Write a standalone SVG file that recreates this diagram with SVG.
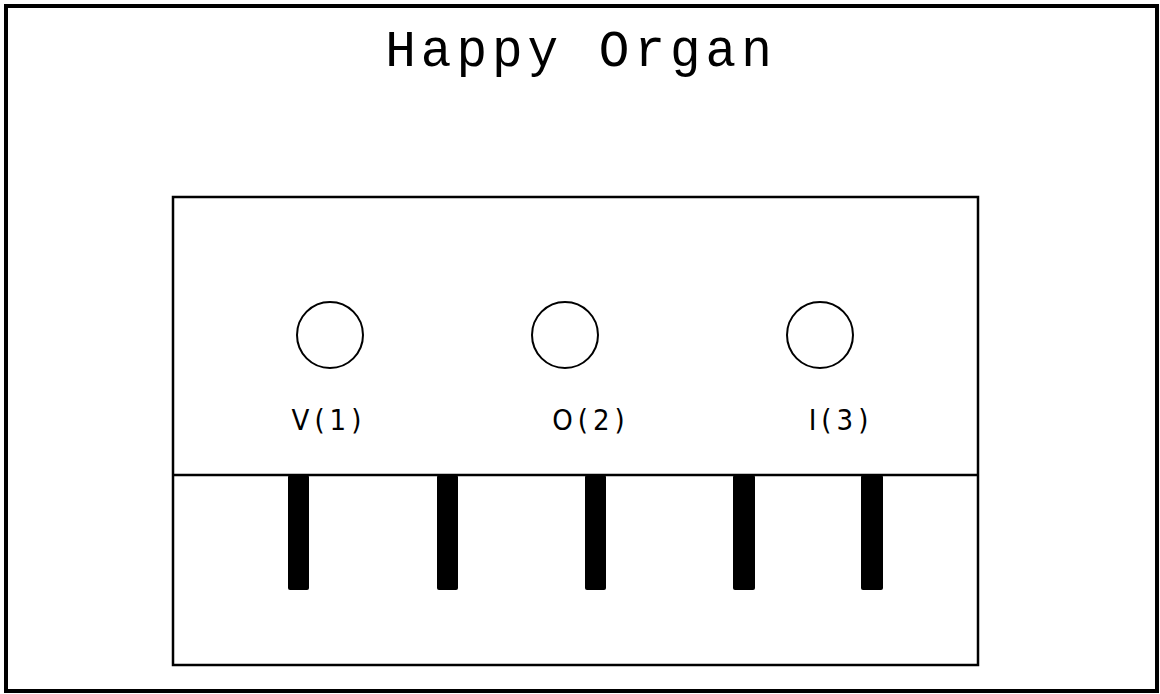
<svg xmlns="http://www.w3.org/2000/svg" width="1160" height="694" viewBox="0 0 1160 694">
<style>
.frame{fill:none;stroke:#000;stroke-width:4}
.box{fill:none;stroke:#000;stroke-width:2.5}
.knob{fill:#fff;stroke:#000;stroke-width:2}
.key{fill:#000}
.title{font-family:"Liberation Mono","Courier New",monospace;font-size:51px;letter-spacing:5px;fill:#000}
.lbl{font-family:"DejaVu Sans Condensed","Liberation Sans Narrow",sans-serif;font-size:29px;letter-spacing:5px;fill:#000}
</style>
<rect width="1160" height="694" fill="#fff"/>
<rect class="frame" x="6" y="6" width="1151" height="685"/>
<text class="title" x="581" y="66" text-anchor="middle">Happy Organ</text>
<g id="organ">
<rect class="box" x="173" y="197" width="805" height="468"/>
<line class="box" x1="173" y1="475" x2="978" y2="475"/>
</g>
<g id="knob1"><circle class="knob" cx="330" cy="335" r="33"/><text class="lbl" x="329" y="430" text-anchor="middle">V(1)</text></g>
<g id="knob2"><circle class="knob" cx="565" cy="335" r="33"/><text class="lbl" x="591" y="430" text-anchor="middle">O(2)</text></g>
<g id="knob3"><circle class="knob" cx="820" cy="335" r="33"/><text class="lbl" x="841" y="430" text-anchor="middle">I(3)</text></g>
<g id="keys">
<rect class="key" x="288" y="475" width="21" height="115" rx="2"/>
<rect class="key" x="437" y="475" width="21" height="115" rx="2"/>
<rect class="key" x="585" y="475" width="21" height="115" rx="2"/>
<rect class="key" x="733" y="475" width="22" height="115" rx="2"/>
<rect class="key" x="861" y="475" width="22" height="115" rx="2"/>
</g>
</svg>
